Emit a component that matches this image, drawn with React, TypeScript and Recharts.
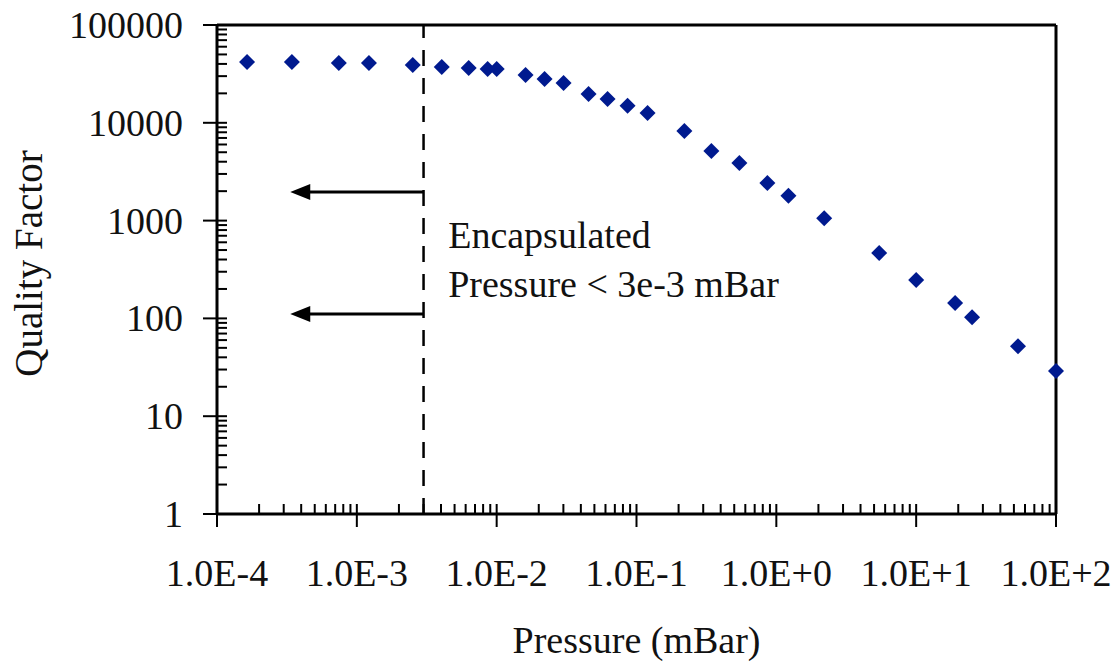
import {
  ScatterChart, Scatter, XAxis, YAxis, ReferenceLine, ReferenceDot, Label,
} from 'recharts';

// pressure in mBar
const pressure = [
  1.64e-4, 3.43e-4, 7.43e-4, 1.22e-3, 2.51e-3, 4.05e-3, 6.31e-3, 8.62e-3, 1.0e-2,
  1.61e-2, 2.2e-2, 3.01e-2, 4.54e-2, 6.21e-2, 8.63e-2, 0.12, 0.22, 0.343, 0.544,
  0.863, 1.22, 2.2, 5.44, 10, 19, 25.1, 53.5, 100,
];
// quality factor
const quality = [
  41900, 41900, 40800, 40800, 39000, 37200, 36300, 35500, 35500,
  30800, 28100, 25500, 19700, 17500, 14900, 12600, 8240, 5150, 3880,
  2420, 1790, 1060, 467, 247, 144, 103, 52, 29,
];

const xMajor = [1e-4, 1e-3, 1e-2, 1e-1, 1, 10, 100];
const xTickLabels = ['1.0E-4', '1.0E-3', '1.0E-2', '1.0E-1', '1.0E+0', '1.0E+1', '1.0E+2'];
const yMajor = [1, 10, 100, 1000, 10000, 100000];
const yTickLabels = ['1', '10', '100', '1000', '10000', '100000'];
const minorSteps = [2, 3, 4, 5, 6, 7, 8, 9];

// encapsulation limit and the two arrows
const limitPressure = 3e-3;
const arrowEnd = 3.34e-4;
const arrowLevels = [1960, 111];

const data = pressure.map((p, i) => ({ p, q: quality[i] }));

const withMinors = (majors: number[]) => {
  const out: number[] = [];
  majors.forEach((m, i) => {
    out.push(m);
    if (i < majors.length - 1) minorSteps.forEach((s) => out.push(m * s));
  });
  return out;
};
const xTicks = withMinors(xMajor);
const yTicks = withMinors(yMajor);

const FONT = '"Liberation Serif", "Times New Roman", serif';
const NAVY = '#001a8f';

const majorIndex = (v: number, majors: number[]) =>
  majors.findIndex((m) => Math.abs(m - v) / m < 1e-9);

const XTick = (props: any) => {
  const { x, y, payload } = props;
  const idx = majorIndex(payload.value, xMajor);
  const major = idx >= 0;
  return (
    <g>
      <line x1={x} x2={x} y1={y - 10} y2={major ? y + 13 : y} stroke="#000" strokeWidth={2} />
      {major && (
        <text x={x} y={y + 72} textAnchor="middle" fontFamily={FONT} fontSize={38} fill="#111">
          {xTickLabels[idx]}
        </text>
      )}
    </g>
  );
};

const YTick = (props: any) => {
  const { x, y, payload } = props;
  const idx = majorIndex(payload.value, yMajor);
  const major = idx >= 0;
  return (
    <g>
      <line x1={major ? x - 14 : x} x2={x + 10} y1={y} y2={y} stroke="#000" strokeWidth={2} />
      {major && (
        <text x={x - 34} y={y + 13} textAnchor="end" fontFamily={FONT} fontSize={38} fill="#111">
          {yTickLabels[idx]}
        </text>
      )}
    </g>
  );
};

const Diamond = (props: any) => {
  const { cx, cy } = props;
  const r = 8;
  return (
    <polygon
      points={`${cx},${cy - r} ${cx + r},${cy} ${cx},${cy + r} ${cx - r},${cy}`}
      fill={NAVY}
    />
  );
};

const Arrow = (props: any) => {
  const { x1, y1, x2, y2 } = props;
  const head = 20;
  const left = Math.min(x1, x2);
  const right = Math.max(x1, x2);
  const y = (y1 + y2) / 2;
  return (
    <g>
      <line x1={right} x2={left + head - 2} y1={y} y2={y} stroke="#000" strokeWidth={3} />
      <polygon points={`${left},${y} ${left + head},${y - 8} ${left + head},${y + 8}`} fill="#000" />
    </g>
  );
};

const Note = (props: any) => {
  const { cx, cy } = props;
  return (
    <g fontFamily={FONT} fontSize={38} fill="#111">
      <text x={cx} y={cy}>Encapsulated</text>
      <text x={cx} y={cy + 49}>Pressure &lt; 3e-3 mBar</text>
    </g>
  );
};

const App = () => {
  return (
    <div style={{ width: 1120, height: 664, margin: '-8px 0 0 -8px' }}>
      <ScatterChart width={1120} height={664} margin={{ top: 25, right: 64, bottom: 0, left: 0 }}>
        <XAxis
          dataKey="p"
          type="number"
          scale="log"
          domain={[1e-4, 100]}
          ticks={xTicks}
          interval={0}
          tick={<XTick />}
          tickLine={false}
          tickSize={0}
          tickMargin={0}
          height={150}
          axisLine={{ stroke: '#000', strokeWidth: 3 }}
        >
          <Label
            content={(lp: any) => {
              const vb = lp.viewBox;
              return (
                <text x={vb.x + vb.width / 2} y={vb.y + 139} textAnchor="middle"
                  fontFamily={FONT} fontSize={38} fill="#111">
                  Pressure (mBar)
                </text>
              );
            }}
          />
        </XAxis>
        <YAxis
          dataKey="q"
          type="number"
          scale="log"
          domain={[1, 100000]}
          ticks={yTicks}
          interval={0}
          tick={<YTick />}
          tickLine={false}
          tickSize={0}
          tickMargin={0}
          width={217}
          axisLine={{ stroke: '#000', strokeWidth: 3 }}
        >
          <Label
            content={(lp: any) => {
              const vb = lp.viewBox;
              const cy = vb.y + vb.height / 2 - 6;
              return (
                <text x={28} y={cy} transform={`rotate(-90 28 ${cy})`} textAnchor="middle"
                  dominantBaseline="central" fontFamily={FONT} fontSize={39} fill="#111">
                  Quality Factor
                </text>
              );
            }}
          />
        </YAxis>
        <ReferenceLine y={100000} stroke="#000" strokeWidth={3} />
        <ReferenceLine x={100} stroke="#000" strokeWidth={3} />
        <ReferenceLine x={limitPressure} stroke="#000" strokeWidth={2.5} strokeDasharray="16 12" />
        {arrowLevels.map((lvl) => (
          <ReferenceLine
            key={lvl}
            segment={[{ x: limitPressure, y: lvl }, { x: arrowEnd, y: lvl }]}
            shape={(p: any) => <Arrow {...p} />}
          />
        ))}
        <ReferenceDot x={4.5e-3} y={525} shape={(p: any) => <Note {...p} />} />
        <Scatter data={data} fill={NAVY} shape={<Diamond />} isAnimationActive={false} />
      </ScatterChart>
    </div>
  );
};

export default App;
